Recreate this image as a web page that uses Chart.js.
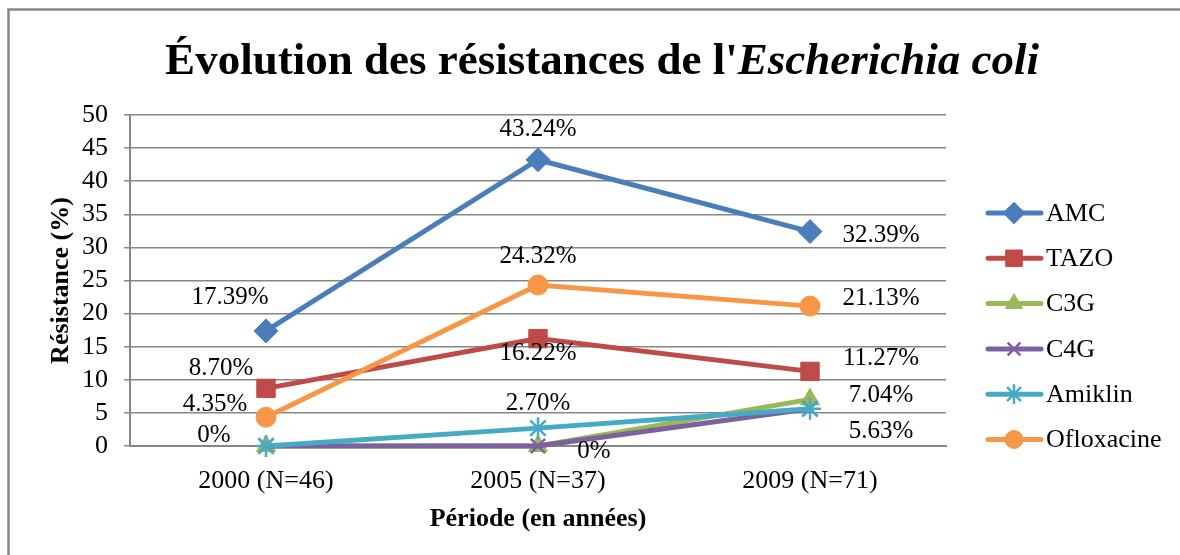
<!DOCTYPE html>
<html>
<head>
<meta charset="utf-8">
<script src="https://cdn.jsdelivr.net/npm/chart.js@4.4.1/dist/chart.umd.min.js"></script>
<style>
  body { margin: 0; background: #fff; }
  canvas { display: block; }
</style>
</head>
<body>
<canvas id="chart" width="1180" height="555"></canvas>
<script>
const categories = ['2000 (N=46)', '2005 (N=37)', '2009 (N=71)']
const yTicks = [0, 5, 10, 15, 20, 25, 30, 35, 40, 45, 50]

const amc = [17.39, 43.24, 32.39]
const tazo = [8.70, 16.22, 11.27]
const c3g = [0, 0, 7.04]
const c4g = [0, 0, 5.63]
const amiklin = [0, 2.70, 5.63]
const ofloxacine = [4.35, 24.32, 21.13]

// where each value label sits, relative to its point (null = no label)
const labelOffsets = {
  AMC: [[-36, -33], [0, -30], [71, 4]],
  TAZO: [[-45, -20], [0, 15], [71, -13]],
  C3G: [[-52, -11], null, [71, -4]],
  C4G: [null, [56, 5], null],
  Amiklin: [null, [0, -25], [71, 23]],
  Ofloxacine: [[-51, -13], [0, -29], [71, -8]]
}

const serif = '"Liberation Serif", "Times New Roman", serif'

function series (label, data, color, pointStyle, radius, order) {
  return {
    label: label,
    data: data,
    borderColor: color,
    backgroundColor: color,
    pointBackgroundColor: color,
    pointBorderColor: color,
    borderWidth: 5,
    pointStyle: pointStyle,
    pointRadius: radius,
    pointHoverRadius: radius,
    pointBorderWidth: (pointStyle === 'crossRot' || pointStyle === 'star') ? 2.5 : 1,
    tension: 0,
    clip: false,
    order: order
  }
}

const datasets = [
  series('AMC', amc, '#4A7EBB', 'rectRot', 12, 5),
  series('TAZO', tazo, '#BE4B48', 'rect', 13, 4),
  series('C3G', c3g, '#98B954', 'triangle', 11, 3),
  series('C4G', c4g, '#7D60A0', 'crossRot', 10, 2),
  series('Amiklin', amiklin, '#46AAC5', 'star', 11, 1),
  series('Ofloxacine', ofloxacine, '#F79646', 'circle', 10, 0)
]

function fmt (v) {
  return v === 0 ? '0%' : v.toFixed(2) + '%'
}

const decorations = {
  id: 'decorations',
  beforeDraw (chart) {
    const ctx = chart.ctx
    ctx.save()
    ctx.strokeStyle = '#868686'
    ctx.lineWidth = 2.5
    ctx.beginPath()
    ctx.moveTo(8.5, 555)
    ctx.lineTo(8.5, 9.5)
    ctx.lineTo(1180, 9.5)
    ctx.stroke()
    ctx.restore()
  },
  afterDatasetsDraw (chart) {
    const ctx = chart.ctx
    ctx.save()
    ctx.fillStyle = '#000'
    ctx.font = '25px ' + serif
    ctx.textAlign = 'center'
    ctx.textBaseline = 'middle'
    chart.data.datasets.forEach((ds, i) => {
      const offs = labelOffsets[ds.label]
      const meta = chart.getDatasetMeta(i)
      meta.data.forEach((pt, j) => {
        const o = offs[j]
        if (!o) return
        ctx.fillText(fmt(ds.data[j]), pt.x + o[0], pt.y + o[1])
      })
    })
    ctx.restore()
  },
  afterDraw (chart) {
    const ctx = chart.ctx
    ctx.save()
    // title, part of it in italics
    const a = 'Évolution des résistances de l\''
    const b = 'Escherichia coli'
    ctx.fillStyle = '#000'
    ctx.textBaseline = 'alphabetic'
    ctx.textAlign = 'left'
    ctx.font = 'bold 45px ' + serif
    const wa = ctx.measureText(a).width
    ctx.font = 'italic bold 45px ' + serif
    const wb = ctx.measureText(b).width
    const x = 602 - (wa + wb) / 2
    ctx.font = 'bold 45px ' + serif
    ctx.fillText(a, x, 74)
    ctx.font = 'italic bold 45px ' + serif
    ctx.fillText(b, x + wa, 74)

    // legend: line with marker, then name
    ctx.font = '26px ' + serif
    ctx.textBaseline = 'middle'
    chart.data.datasets.forEach((ds, i) => {
      const y = 213 + i * 45.3
      ctx.strokeStyle = ds.borderColor
      ctx.lineWidth = 5
      ctx.lineCap = 'round'
      ctx.beginPath()
      ctx.moveTo(988, y)
      ctx.lineTo(1041, y)
      ctx.stroke()
      ctx.lineCap = 'butt'
      ctx.fillStyle = ds.borderColor
      ctx.strokeStyle = ds.borderColor
      ctx.lineWidth = ds.pointBorderWidth
      Chart.helpers.drawPoint(ctx, { pointStyle: ds.pointStyle, radius: ds.pointRadius * 0.9, borderWidth: ds.pointBorderWidth, rotation: 0 }, 1014, y)
      ctx.fillStyle = '#000'
      ctx.fillText(ds.label, 1046, y + 1)
    })
    ctx.restore()
  }
}

new Chart(document.getElementById('chart').getContext('2d'), {
  type: 'line',
  data: { labels: categories, datasets: datasets },
  options: {
    responsive: false,
    animation: false,
    events: [],
    layout: { padding: { left: 42, top: 115, right: 234, bottom: 16 } },
    plugins: {
      legend: { display: false },
      title: { display: false },
      tooltip: { enabled: false }
    },
    scales: {
      x: {
        offset: true,
        grid: { display: false, drawTicks: false },
        border: { display: true, color: '#868686', width: 2 },
        ticks: { color: '#000', font: { family: serif, size: 26 }, padding: 20, maxRotation: 0, autoSkip: false },
        title: { display: true, text: 'Période (en années)', color: '#000', font: { family: serif, size: 26, weight: 'bold' } },
        afterFit (scale) { scale.height = 93 }
      },
      y: {
        min: yTicks[0],
        max: yTicks[yTicks.length - 1],
        afterBuildTicks (scale) { scale.ticks = yTicks.map(v => ({ value: v })) },
        grid: { color: '#868686', lineWidth: 1.5, tickLength: 6, drawTicks: true },
        border: { display: true, color: '#868686', width: 2 },
        ticks: { color: '#000', font: { family: serif, size: 26 }, padding: 16, autoSkip: false },
        title: { display: true, text: 'Résistance (%)', color: '#000', font: { family: serif, size: 26, weight: 'bold' } },
        afterFit (scale) { scale.width = 88 }
      }
    }
  },
  plugins: [decorations]
})
</script>
</body>
</html>
